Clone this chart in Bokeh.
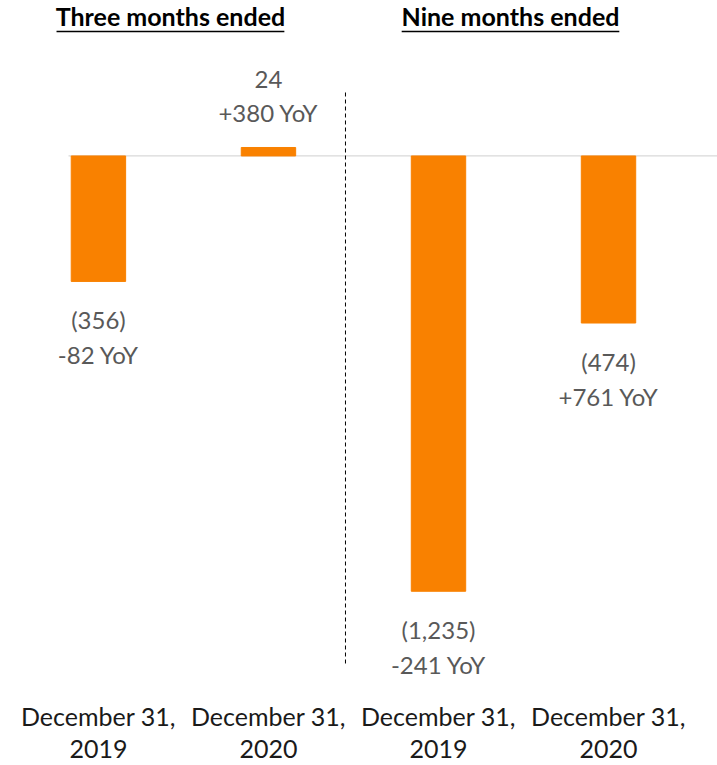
from bokeh.plotting import figure
from bokeh.models import FixedTicker
from bokeh.core.properties import value
from bokeh.embed import file_html
from bokeh.resources import INLINE
import numpy as np

# ---- data ----
groups = ["Three months ended", "Nine months ended"]
categories = ["December 31,\n2019", "December 31,\n2020", "December 31,\n2019", "December 31,\n2020"]
group_of = [0, 0, 1, 1]
values = [-356, 24, -1235, -474]
yoy = [-82, 380, -241, 761]

# ---- styles ----
ORANGE = "#F98100"
TEXT_GRAY = "#595959"
FONT = "Lato"

xs = np.arange(len(categories), dtype=float)

def fmt_val(v):
    return f"({abs(v):,})" if v < 0 else f"{v:,}"

def fmt_yoy(d):
    return f"{d:+d} YoY"

labels = [fmt_val(v) + "\n" + fmt_yoy(d) for v, d in zip(values, yoy)]

X0, X1 = -0.576, 3.641
p = figure(width=717, height=765, x_range=(X0, X1), y_range=(-1508, 441),
           output_backend="svg", toolbar_location=None,
           min_border_left=0, min_border_right=0, min_border_top=0, min_border_bottom=75)
p.outline_line_color = None
p.xgrid.visible = False
p.ygrid.visible = False
p.yaxis.visible = False

# zero line
ZERO_START = -0.176
p.segment(x0=[ZERO_START], y0=[0], x1=[X1], y1=[0], line_color="#D9D9D9", line_width=1.2)

# bars
p.vbar(x=xs, top=values, bottom=0, width=0.32, fill_color=ORANGE, line_color=ORANGE)

# value labels
neg = [i for i, v in enumerate(values) if v < 0]
pos = [i for i, v in enumerate(values) if v >= 0]
common = dict(text_align="center", text_font=value(FONT), text_font_size="24px",
              text_color=TEXT_GRAY, text_line_height=1.2)
p.text(x=[xs[i] for i in neg], y=[values[i] for i in neg], text=[labels[i] for i in neg],
       text_baseline="top", y_offset=24, **common)
p.text(x=[xs[i] for i in pos], y=[values[i] for i in pos], text=[labels[i] for i in pos],
       text_baseline="bottom", y_offset=-20, **common)

# group headers
gx = [float(np.mean([xs[i] for i in range(len(xs)) if group_of[i] == g])) for g in range(len(groups))]
HEADER_Y = 370
p.text(x=gx, y=[HEADER_Y] * len(gx), text=groups, text_align="center", text_baseline="alphabetic",
       x_offset=-13, y_offset=-10, text_font=value(FONT), text_font_style="bold",
       text_font_size="25px", text_color="black")
UL_Y = 353
ul_half = [0.67, 0.64]
ul_shift = -13 / 170
p.segment(x0=[g + ul_shift - h for g, h in zip(gx, ul_half)], y0=[UL_Y] * len(gx),
          x1=[g + ul_shift + h for g, h in zip(gx, ul_half)], y1=[UL_Y] * len(gx),
          line_color="black", line_width=1.5)

# divider between groups
DIV_SHIFT = -8 / 170
div_x = (xs[1] + xs[2]) / 2 + DIV_SHIFT
p.segment(x0=[div_x], y0=[180], x1=[div_x], y1=[-1440], line_color="black",
          line_width=1, line_dash="4 3")

# x axis labels
ax = p.xaxis[0]
ax.ticker = FixedTicker(ticks=list(xs))
ax.major_label_overrides = {int(i): c for i, c in zip(xs, categories)}
ax.axis_line_color = None
ax.major_tick_line_color = None
ax.minor_tick_line_color = None
ax.major_tick_out = 0
ax.major_label_standoff = 13
ax.major_label_text_font = FONT
ax.major_label_text_font_size = "25px"
ax.major_label_text_color = "#1a1a1a"
ax.major_label_text_line_height = 1.07

open("out.html", "w").write(file_html(p, INLINE))
